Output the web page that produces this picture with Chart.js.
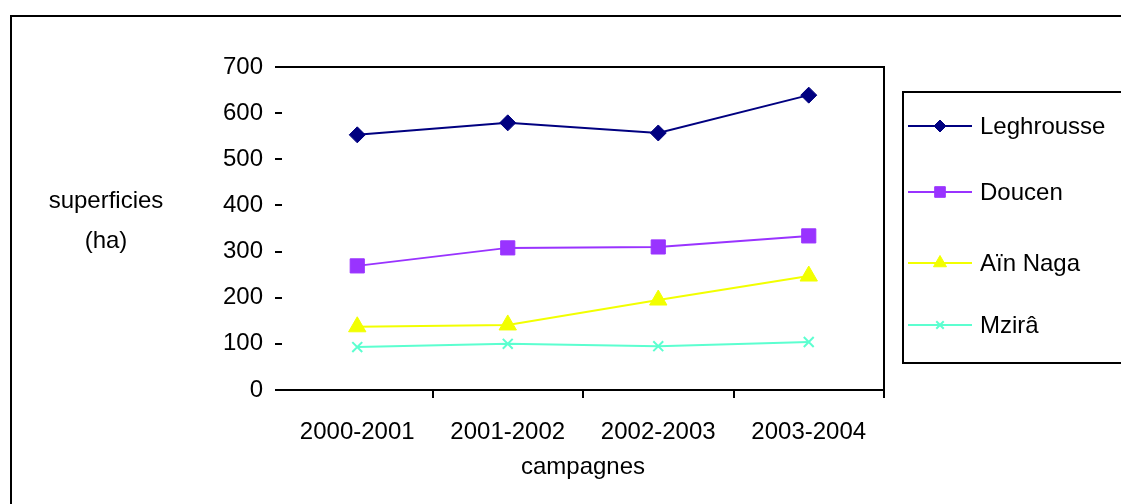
<!DOCTYPE html>
<html>
<head>
<meta charset="utf-8">
<script src="https://cdn.jsdelivr.net/npm/chart.js@4/dist/chart.umd.min.js"></script>
<style>
  html, body { margin: 0; padding: 0; background: #fff; }
  #wrap { width: 1121px; height: 504px; }
</style>
</head>
<body>
<div id="wrap"><canvas id="lineChart" width="1121" height="504"></canvas></div>
<script>
// campagnes agricoles
var categories = ['2000-2001', '2001-2002', '2002-2003', '2003-2004'];

// superficies (ha) par commune
var leghrousse = [553, 579, 557, 639];
var doucen = [269, 308, 310, 334];
var ainNaga = [137, 141, 195, 247];
var mzira = [93, 100, 95, 104];

var seriesNames = ['Leghrousse', 'Doucen', 'Aïn Naga', 'Mzirâ'];
var yTicks = [0, 100, 200, 300, 400, 500, 600, 700];

var FONT = 'Liberation Sans, Arial, sans-serif';
var FONT_SIZE = 24;

// outer frame, plot frame, y label and the boxed legend
var decorations = {
    id: 'decorations',
    beforeDraw: function (chart) {
        var c = chart.ctx;
        c.save();
        c.fillStyle = '#fff';
        c.fillRect(0, 0, chart.width, chart.height);
        c.strokeStyle = '#000';
        c.lineWidth = 2;
        c.strokeRect(11, 16, chart.width + 20, chart.height + 20);
        c.restore();
    },
    afterDraw: function (chart) {
        var c = chart.ctx;
        var a = chart.chartArea;
        c.save();
        c.strokeStyle = '#000';
        c.lineWidth = 2;
        c.beginPath();
        c.moveTo(a.left - 6, a.top);
        c.lineTo(a.right, a.top);
        c.lineTo(a.right, a.bottom + 8);
        c.stroke();

        c.fillStyle = '#000';
        c.font = FONT_SIZE + 'px ' + FONT;
        c.textAlign = 'center';
        c.textBaseline = 'middle';
        c.fillText('superficies', 106, 201);
        c.fillText('(ha)', 106, 241);

        // legend box
        c.strokeRect(903, 92, 260, 271);
        var rows = [126, 192, 263, 325];
        chart.data.datasets.forEach(function (ds, i) {
            var y = rows[i];
            c.strokeStyle = ds.borderColor;
            c.lineWidth = 2;
            c.beginPath();
            c.moveTo(908, y);
            c.lineTo(972, y);
            c.stroke();
            c.fillStyle = ds.backgroundColor;
            c.lineWidth = ds.pointBorderWidth || 1;
            Chart.helpers.drawPoint(c, {
                pointStyle: ds.pointStyle,
                radius: ds.pointRadius * 0.75,
                rotation: 0,
                borderWidth: ds.pointBorderWidth || 1
            }, 940, y);
            c.fillStyle = '#000';
            c.font = FONT_SIZE + 'px ' + FONT;
            c.textAlign = 'left';
            c.fillText(ds.label, 980, y + 1);
        });
        c.restore();
    }
};

var ctx = document.getElementById('lineChart').getContext('2d');
var myChart = new Chart(ctx, {
    type: 'line',
    data: {
        labels: categories,
        datasets: [
            {
                label: seriesNames[0],
                data: leghrousse,
                borderColor: '#000080',
                backgroundColor: '#000080',
                borderWidth: 2,
                pointStyle: 'rectRot',
                pointRadius: 8,
                pointBorderWidth: 1
            },
            {
                label: seriesNames[1],
                data: doucen,
                borderColor: '#9933ff',
                backgroundColor: '#9933ff',
                borderWidth: 2,
                pointStyle: 'rect',
                pointRadius: 10,
                pointBorderWidth: 1
            },
            {
                label: seriesNames[2],
                data: ainNaga,
                borderColor: '#f2ff00',
                backgroundColor: '#f2ff00',
                borderWidth: 2,
                pointStyle: 'triangle',
                pointRadius: 10,
                pointBorderWidth: 1
            },
            {
                label: seriesNames[3],
                data: mzira,
                borderColor: '#5cffd0',
                backgroundColor: '#5cffd0',
                borderWidth: 2,
                pointStyle: 'crossRot',
                pointRadius: 7,
                pointBorderWidth: 2
            }
        ]
    },
    options: {
        responsive: false,
        animation: false,
        layout: { padding: { left: 0, right: 237, top: 67, bottom: 22 } },
        plugins: {
            legend: { display: false },
            tooltip: { enabled: false }
        },
        scales: {
            x: {
                offset: true,
                grid: {
                    offset: true,
                    drawOnChartArea: false,
                    drawTicks: true,
                    tickLength: 8,
                    lineWidth: 2,
                    color: function (c) { return c.index === 0 ? 'rgba(0,0,0,0)' : '#000'; }
                },
                border: { display: true, color: '#000', width: 2 },
                ticks: {
                    color: '#000',
                    font: { family: FONT, size: FONT_SIZE },
                    padding: 20,
                    maxRotation: 0,
                    autoSkip: false
                },
                title: {
                    display: true,
                    text: 'campagnes',
                    color: '#000',
                    font: { family: FONT, size: FONT_SIZE },
                    padding: { top: 4, bottom: 0 }
                },
                afterFit: function (scale) { scale.height = 92; }
            },
            y: {
                min: 0,
                max: 700,
                afterBuildTicks: function (scale) {
                    scale.ticks = yTicks.map(function (v) { return { value: v }; });
                },
                grid: {
                    drawOnChartArea: false,
                    drawTicks: true,
                    tickLength: 7,
                    lineWidth: 2,
                    color: '#000'
                },
                border: { display: false },
                ticks: {
                    color: '#000',
                    font: { family: FONT, size: FONT_SIZE },
                    padding: 12
                },
                afterFit: function (scale) { scale.width = 282; }
            }
        }
    },
    plugins: [decorations]
});
</script>
</body>
</html>
